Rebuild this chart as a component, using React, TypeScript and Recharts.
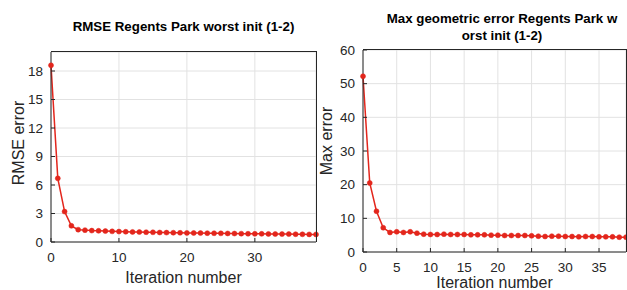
import { CartesianGrid, Line, LineChart, XAxis, YAxis } from "recharts";

const iterations = Array.from({ length: 40 }, (_, i) => i);

const rmseValues = [
  18.6, 6.7, 3.2, 1.7, 1.3, 1.25, 1.2, 1.18, 1.15, 1.12,
  1.1, 1.08, 1.06, 1.05, 1.03, 1.02, 1.0, 0.99, 0.98, 0.97,
  0.96, 0.95, 0.94, 0.93, 0.92, 0.91, 0.9, 0.89, 0.88, 0.87,
  0.86, 0.86, 0.85, 0.84, 0.83, 0.83, 0.82, 0.81, 0.8, 0.8,
];

const maxErrorValues = [
  52.2, 20.5, 12.1, 7.2, 5.8, 6.0, 5.8, 6.0, 5.6, 5.3,
  5.2, 5.2, 5.3, 5.2, 5.2, 5.2, 5.1, 5.1, 5.1, 5.0,
  5.0, 4.9, 4.9, 4.9, 4.9, 4.8, 4.7, 4.6, 4.7, 4.7,
  4.6, 4.6, 4.5, 4.6, 4.6, 4.5, 4.5, 4.5, 4.4, 4.4,
];

const rmseXTicks = [0, 10, 20, 30];
const rmseYTicks = [0, 3, 6, 9, 12, 15, 18];
const maxXTicks = [0, 5, 10, 15, 20, 25, 30, 35];
const maxYTicks = [0, 10, 20, 30, 40, 50, 60];

const FONT = "'Liberation Sans', Arial, sans-serif";
const RED = "#e3261c";
const AXIS = "#262626";
const GRID = "#e2e2e2";

type PanelProps = {
  values: number[];
  xTicks: number[];
  yTicks: number[];
  yMax: number;
  left: number;
  width: number;
  plotLeft: number;
  plotRight: number;
  plotTop: number;
  plotBottom: number;
};

function Panel({ values, xTicks, yTicks, yMax, left, width, plotLeft, plotRight, plotTop, plotBottom }: PanelProps) {
  const data = iterations.map((x, i) => ({ x, y: values[i] }));
  const tickStyle = { fontSize: 13.5, fill: AXIS, fontFamily: FONT };
  const xMax = iterations[iterations.length - 1];
  return (
    <div style={{ position: "absolute", left, top: 0, width, height: 290 }}>
      <LineChart
        width={width}
        height={290}
        data={data}
        margin={{ top: plotTop, right: width - plotRight, bottom: 0, left: 0 }}
      >
        <CartesianGrid stroke={GRID} strokeWidth={1} />
        <XAxis
          dataKey="x"
          type="number"
          domain={[0, xMax]}
          ticks={xTicks}
          height={290 - plotBottom}
          stroke={AXIS}
          tickSize={-4}
          tickMargin={14}
          tick={tickStyle}
          interval={0}
        />
        <YAxis
          type="number"
          domain={[0, yMax]}
          ticks={yTicks}
          width={plotLeft}
          stroke={AXIS}
          tickSize={-4}
          tickMargin={12}
          tick={tickStyle}
          interval={0}
        />
        <Line
          dataKey="y"
          stroke={RED}
          strokeWidth={1.5}
          dot={{ r: 2.5, fill: RED, stroke: RED, strokeWidth: 0.5 }}
          activeDot={false}
          isAnimationActive={false}
        />
      </LineChart>
      {/* box frame: top and right edges */}
      <div
        style={{
          position: "absolute",
          left: plotLeft,
          top: plotTop - 1,
          width: plotRight - plotLeft + 1,
          height: plotBottom - plotTop + 1,
          borderTop: `1px solid ${AXIS}`,
          borderRight: `1px solid ${AXIS}`,
          boxSizing: "border-box",
          pointerEvents: "none",
        }}
      />
    </div>
  );
}

export default function App() {
  return (
    <div style={{ position: "absolute", left: 0, top: 0, width: 627, height: 290, background: "#fff", overflow: "hidden" }}>
      <Panel
        values={rmseValues}
        xTicks={rmseXTicks}
        yTicks={rmseYTicks}
        yMax={20}
        left={0}
        width={320}
        plotLeft={51}
        plotRight={316}
        plotTop={52}
        plotBottom={242}
      />
      <Panel
        values={maxErrorValues}
        xTicks={maxXTicks}
        yTicks={maxYTicks}
        yMax={60}
        left={310}
        width={317}
        plotLeft={53}
        plotRight={316}
        plotTop={50}
        plotBottom={252}
      />
      <svg width={627} height={290} style={{ position: "absolute", left: 0, top: 0, pointerEvents: "none" }}>
        <g fontFamily={FONT} fill="#000">
          <text x={183.5} y={31} textAnchor="middle" fontSize={13.3} fontWeight="bold">
            RMSE Regents Park worst init (1-2)
          </text>
          <text x={502} y={23} textAnchor="middle" fontSize={13.3} fontWeight="bold">
            Max geometric error Regents Park w
          </text>
          <text x={502} y={40} textAnchor="middle" fontSize={13.3} fontWeight="bold">
            orst init (1-2)
          </text>
        </g>
        <g fontFamily={FONT} fill={AXIS} fontSize={16}>
          <text x={183.5} y={283} textAnchor="middle">Iteration number</text>
          <text x={494.5} y={288} textAnchor="middle">Iteration number</text>
          <text x={24} y={143} textAnchor="middle" transform="rotate(-90 24 143)">RMSE error</text>
          <text x={332} y={141} textAnchor="middle" transform="rotate(-90 332 141)">Max error</text>
        </g>
      </svg>
    </div>
  );
}
